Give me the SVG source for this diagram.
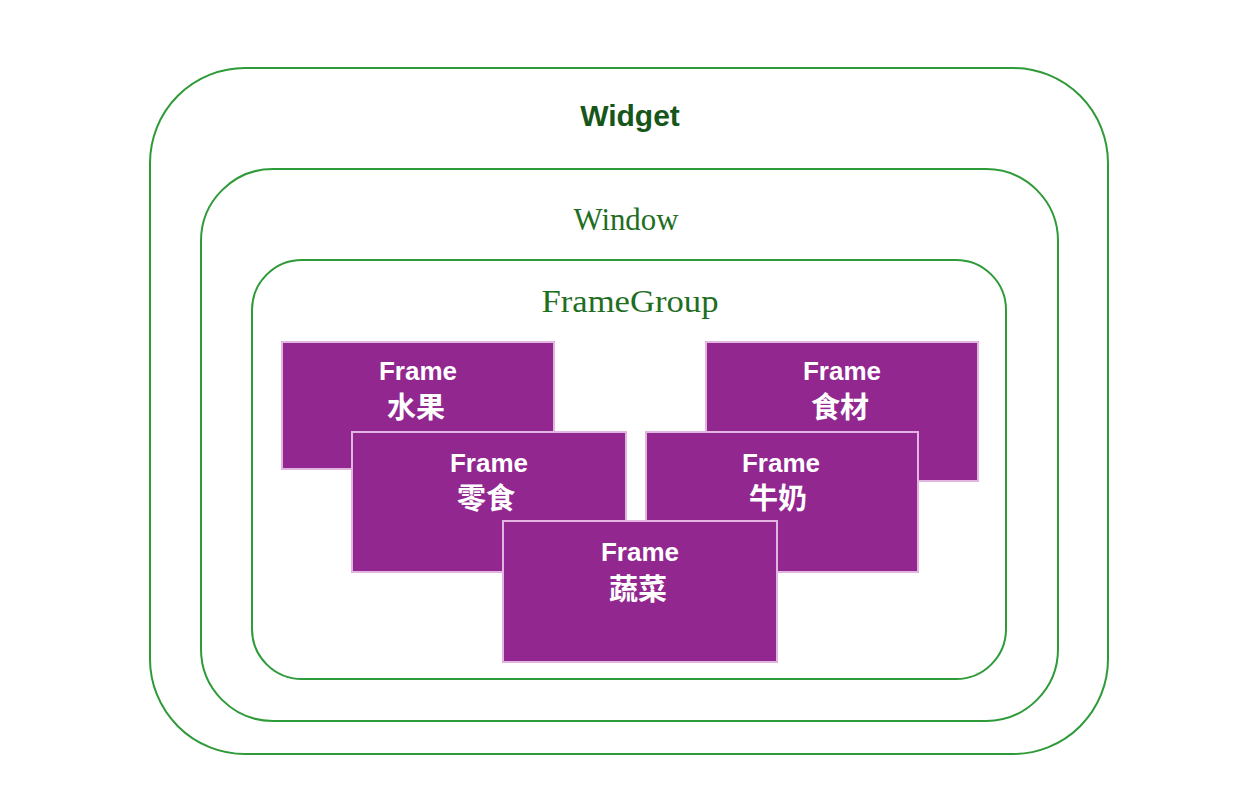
<svg xmlns="http://www.w3.org/2000/svg" width="1254" height="806" viewBox="0 0 1254 806">
<style>
.cont{fill:none;stroke:#2e9a38;stroke-width:2}
.fr{fill:#92278f;stroke:#e2b4e0;stroke-width:2}
.ft{font-family:"Liberation Sans","Noto Sans CJK SC",sans-serif;font-weight:bold;font-size:26px;fill:#ffffff;text-anchor:middle}
.fc{font-family:"Noto Sans CJK SC",sans-serif;font-weight:bold;font-size:29px;fill:#ffffff;text-anchor:middle}
.mono{font-family:"Liberation Serif",serif;font-size:31px;fill:#1f6e1f;text-anchor:middle}
</style>
<rect width="1254" height="806" fill="#ffffff"/>
<g id="widget">
<rect class="cont" x="150" y="68" width="958" height="686" rx="95" ry="95"/>
<text x="630" y="126" font-family="Liberation Sans, sans-serif" font-weight="bold" font-size="30" fill="#17561a" text-anchor="middle">Widget</text>
</g>
<g id="window">
<rect class="cont" x="201" y="169" width="857" height="552" rx="72" ry="72"/>
<text class="mono" x="626" y="230" textLength="105" lengthAdjust="spacingAndGlyphs">Window</text>
</g>
<g id="framegroup">
<rect class="cont" x="252" y="260" width="754" height="419" rx="50" ry="50"/>
<text class="mono" x="630" y="312" textLength="177" lengthAdjust="spacingAndGlyphs">FrameGroup</text>
</g>
<g id="frame-shuiguo">
<rect class="fr" x="282" y="342" width="272" height="127"/>
<text class="ft" x="418" y="380">Frame</text>
<text class="fc" x="416" y="418">水果</text>
</g>
<g id="frame-shicai">
<rect class="fr" x="706" y="342" width="272" height="139"/>
<text class="ft" x="842" y="380">Frame</text>
<text class="fc" x="840" y="418">食材</text>
</g>
<g id="frame-lingshi">
<rect class="fr" x="352" y="432" width="274" height="140"/>
<text class="ft" x="489" y="472">Frame</text>
<text class="fc" x="486" y="509">零食</text>
</g>
<g id="frame-niunai">
<rect class="fr" x="646" y="432" width="272" height="140"/>
<text class="ft" x="781" y="472">Frame</text>
<text class="fc" x="778" y="509">牛奶</text>
</g>
<g id="frame-shucai">
<rect class="fr" x="503" y="521" width="274" height="141"/>
<text class="ft" x="640" y="561">Frame</text>
<text class="fc" x="638" y="600">蔬菜</text>
</g>
<g id="connectors"/>
</svg>
